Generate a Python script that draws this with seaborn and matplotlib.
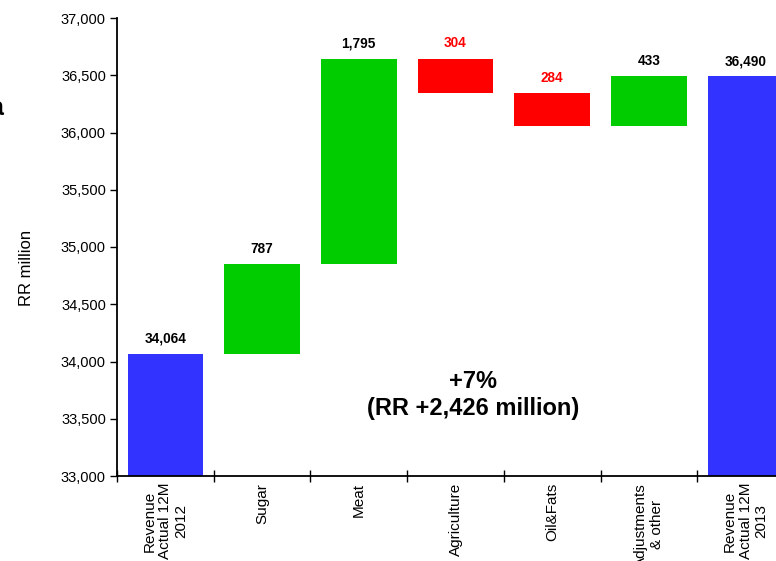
import matplotlib
matplotlib.use("Agg")
import matplotlib.pyplot as plt
import seaborn as sns
import numpy as np
import pandas as pd
from matplotlib.ticker import FuncFormatter, FixedLocator

sns.set_style("white")
plt.rcParams['font.family'] = ['Liberation Sans', 'DejaVu Sans']
plt.rcParams['text.color'] = 'black'
plt.rcParams['axes.labelcolor'] = 'black'
plt.rcParams['xtick.color'] = 'black'
plt.rcParams['ytick.color'] = 'black'

categories = ["Revenue\nActual 12M\n2012", "Sugar", "Meat", "Agriculture",
              "Oil&Fats", "Adjustments\n& other", "Revenue\nActual 12M\n2013"]
changes = [34064, 787, 1795, -304, -284, 433, 36490]
kinds = ["total", "up", "up", "down", "down", "up", "total"]
labels = ["34,064", "787", "1,795", "304", "284", "433", "36,490"]
annotation = "+7%\n(RR +2,426 million)"

colors = {"total": "#3333FF", "up": "#00CC00", "down": "#FF0000"}
label_colors = {"total": "black", "up": "black", "down": "#FF0000"}

# compute waterfall bottoms / heights
bottoms, heights, tops = [], [], []
run = 0
for c, k in zip(changes, kinds):
    if k == "total":
        b, h = 33000, c - 33000
        run = c
    elif k == "up":
        b, h = run, c
        run += c
    else:
        b, h = run + c, -c
        run += c
    bottoms.append(b)
    heights.append(h)
    tops.append(b + h)

df = pd.DataFrame({"cat": categories, "h": heights, "kind": kinds})

fig = plt.figure(figsize=(7.76, 5.61), dpi=100)
ax = fig.add_axes([117/776, 1-476/561, 677/776, 458/561])

sns.barplot(data=df, x="cat", y="h", bottom=bottoms, width=0.78,
            color="#3333FF", ax=ax, linewidth=0, saturation=1)
for p, k in zip(ax.patches, kinds):
    p.set_facecolor(colors[k])
    p.set_edgecolor("none")

ax.set_xlim(-0.5, 6.5)
ax.set_ylim(33000, 37000)
ax.set_yticks(np.arange(33000, 37001, 500))
ax.yaxis.set_major_formatter(FuncFormatter(lambda v, p: f"{int(v):,}"))
ax.tick_params(axis="y", which="major", direction="out", length=5, width=1,
               labelsize=10.5, colors="black", pad=3, left=True)

ax.set_xticks(range(7))
ax.set_xticklabels(categories, rotation=90, fontsize=11, linespacing=1.15,
                   ha="center", va="top")
ax.tick_params(axis="x", which="major", length=0, pad=5)
ax.xaxis.set_minor_locator(FixedLocator(np.arange(-0.5, 7, 1)))
ax.tick_params(axis="x", which="minor", direction="inout", length=8, width=1,
               bottom=True)

for s in ["top", "right"]:
    ax.spines[s].set_visible(False)
for s in ["left", "bottom"]:
    ax.spines[s].set_color("black")
    ax.spines[s].set_linewidth(1.3)

ax.set_xlabel("")
ax.set_ylabel("RR million", fontsize=12)
ax.yaxis.set_label_coords(-0.123, 0.455)

for i, (t, lab, k) in enumerate(zip(tops, labels, kinds)):
    ax.annotate(lab, (i, t), xytext=(0, 6), textcoords="offset points",
                ha="center", va="bottom", fontsize=9.8, fontweight="bold",
                color=label_colors[k])

ax.text(3.18, 33710, annotation, ha="center", va="center", fontsize=17,
        fontweight="bold", linespacing=1.2)

fig.text(3/776, 1-115/561, "a", fontsize=18, ha="right", va="baseline",
         fontweight="bold")

fig.savefig("out.png", dpi=100)
